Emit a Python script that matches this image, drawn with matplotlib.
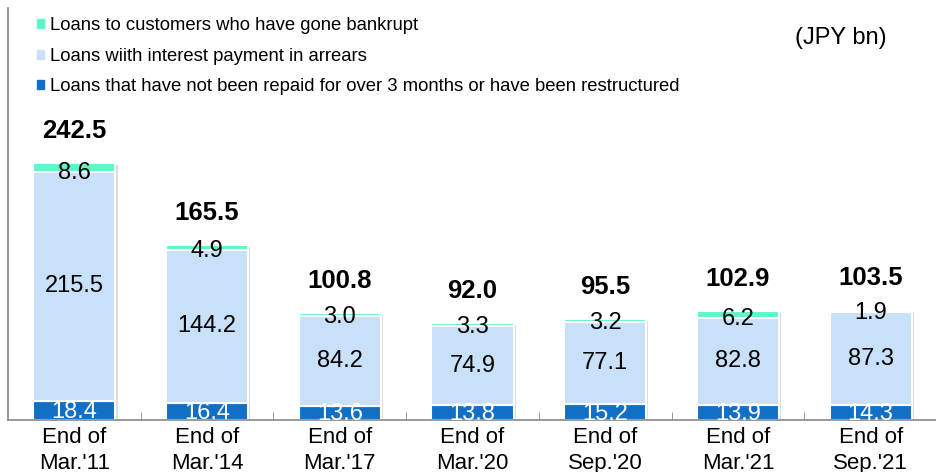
import matplotlib
matplotlib.use('Agg')
import matplotlib.pyplot as plt
import matplotlib.patheffects as pe
from matplotlib.patches import Patch
import numpy as np

plt.rcParams['font.family'] = ['Liberation Sans', 'DejaVu Sans']

categories = ["End of\nMar.'11", "End of\nMar.'14", "End of\nMar.'17", "End of\nMar.'20",
              "End of\nSep.'20", "End of\nMar.'21", "End of\nSep.'21"]
restructured = [18.4, 16.4, 13.6, 13.8, 15.2, 13.9, 14.3]
arrears = [215.5, 144.2, 84.2, 74.9, 77.1, 82.8, 87.3]
bankrupt = [8.6, 4.9, 3.0, 3.3, 3.2, 6.2, 1.9]
totals = [242.5, 165.5, 100.8, 92.0, 95.5, 102.9, 103.5]

c_dark = '#126fc6'
c_light = '#c8e0f8'
c_teal = '#5ff5c9'

fig = plt.figure(figsize=(9.37, 4.72), dpi=100)
ax = fig.add_axes([8/937, 52/472, 1 - 8/937, 412/472])

x = np.arange(len(categories))
w = 0.62
base2 = np.array(restructured)
base3 = base2 + np.array(arrears)
tops = base3 + np.array(bankrupt)

# soft shadow behind each stack
ax.bar(x, tops, w, color='white', edgecolor='white', linewidth=1.5,
       path_effects=[pe.SimplePatchShadow(offset=(1.5, -1.5), shadow_rgbFace='#999999', alpha=0.35),
                     pe.Normal()])
ax.bar(x, restructured, w, color=c_dark, edgecolor='white', linewidth=1.5)
ax.bar(x, arrears, w, bottom=base2, color=c_light, edgecolor='white', linewidth=1.5)
ax.bar(x, bankrupt, w, bottom=base3, color=c_teal, edgecolor='white', linewidth=1.5)

for i in range(len(x)):
    ax.text(x[i], restructured[i] / 2 - 1.5, '%.1f' % restructured[i], ha='center', va='center',
            color='white', fontsize=17)
    ax.text(x[i], base2[i] + arrears[i] / 2, '%.1f' % arrears[i], ha='center', va='center',
            color='black', fontsize=17)
    ax.text(x[i], base3[i] - 1, '%.1f' % bankrupt[i], ha='center', va='center',
            color='black', fontsize=17)
    ax.annotate('%.1f' % totals[i], (x[i], tops[i]), xytext=(0, 23),
                textcoords='offset points', ha='center', va='center',
                fontsize=18.5, fontweight='bold')

ax.set_xlim(-0.5, 6.5)
ax.set_ylim(0, 389)
ax.set_yticks([])
ax.set_xticks(x)
ax.set_xticklabels(categories, fontsize=16, linespacing=1.3)
ax.tick_params(axis='x', which='major', length=0, pad=5)
ax.set_xticks(x[:-1] + 0.5, minor=True)
ax.tick_params(axis='x', which='minor', direction='in', length=6, color='#888888')
for s in ['top', 'right']:
    ax.spines[s].set_visible(False)
for s in ['left', 'bottom']:
    ax.spines[s].set_color('#888888')
    ax.spines[s].set_linewidth(1.2)

handles = [Patch(color=c_teal), Patch(color=c_light), Patch(color=c_dark)]
labels = ['Loans to customers who have gone bankrupt',
          'Loans wiith interest payment in arrears',
          'Loans that have not been repaid for over 3 months or have been restructured']
ax.legend(handles, labels, loc='upper left', bbox_to_anchor=(22/929, 0.995), frameon=False,
          fontsize=13.3, handlelength=0.38, handleheight=0.38, handletextpad=0.3,
          labelspacing=0.72, borderaxespad=0)

fig.text(795/937, 1 - 38/472, '(JPY bn)', fontsize=17, va='center', ha='left')

fig.savefig('out.png', dpi=100)
